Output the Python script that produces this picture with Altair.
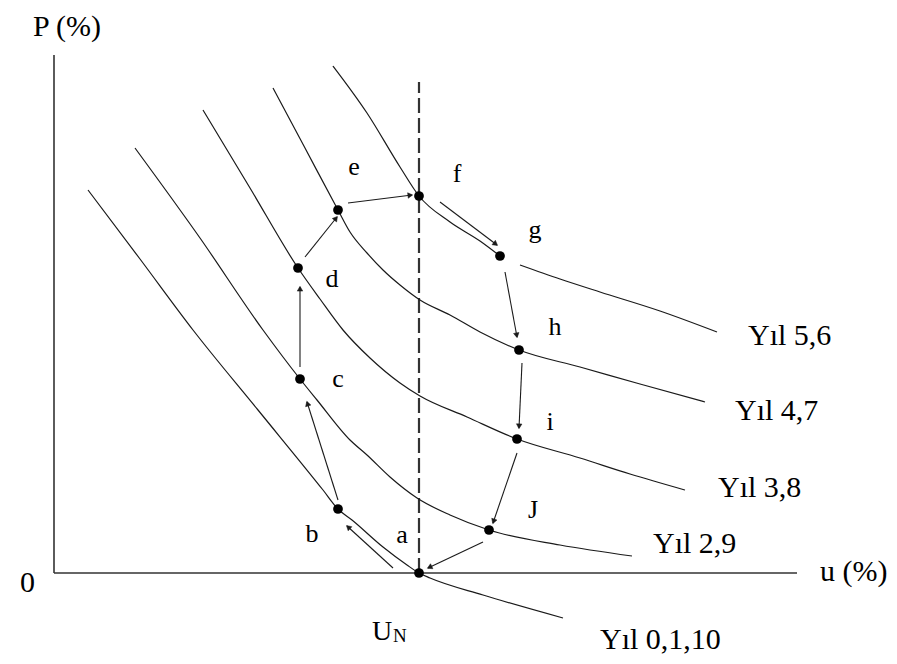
import math
import altair as alt
import pandas as pd

# ---- curves (u = unemployment, P = inflation), arbitrary units ----
C56A_U = [27.9, 31.3, 34.6, 36.5, 39.6, 42.6, 44.6]
C56A_P = [50.7, 46.0, 40.6, 37.7, 35.1, 33.2, 31.7]
C56B_U = [46.6, 50.6, 54.6, 60.6, 66.3]
C56B_P = [30.8, 29.4, 28.1, 26.2, 24.1]
C47_U = [21.9, 25.1, 28.4, 29.6, 31.3, 32.9, 34.6, 36.6, 39.6, 42.6, 46.5, 52.6, 58.6, 65.1]
C47_P = [48.5, 42.5, 36.3, 34.1, 32.0, 30.3, 28.8, 27.3, 25.8, 24.1, 22.3, 20.6, 18.9, 17.1]
C38_U = [14.9, 19.6, 24.4, 26.6, 28.9, 31.6, 34.6, 36.6, 41.3, 46.3, 52.6, 57.6, 63.1]
C38_P = [46.3, 38.5, 30.5, 27.4, 24.3, 21.5, 19.0, 17.7, 15.6, 13.4, 11.5, 9.9, 8.3]
C29_U = [8.1, 14.6, 20.9, 24.6, 26.3, 29.6, 31.3, 33.6, 36.3, 39.6, 43.5, 50.6, 57.8]
C29_P = [42.5, 33.5, 24.3, 19.4, 17.3, 13.3, 11.8, 9.6, 7.5, 5.8, 4.3, 2.8, 1.7]
C0_U = [3.4, 8.6, 13.9, 20.4, 26.9, 28.4, 29.8, 32.9, 35.3, 36.5, 37.6, 42.9, 50.9]
C0_P = [38.3, 31.4, 24.3, 16.3, 8.3, 6.4, 5.3, 2.6, 0.8, 0.0, -0.5, -2.2, -4.5]

# ---- points on the path ----
PT_NAME = ["a", "b", "c", "d", "e", "f", "g", "h", "i", "J"]
PT_U = [36.5, 28.4, 24.6, 24.4, 28.4, 36.5, 44.6, 46.5, 46.3, 43.5]
PT_P = [0.0, 6.4, 19.4, 30.5, 36.3, 37.7, 31.7, 22.3, 13.4, 4.3]

# ---- arrows between points ----
AR_U0 = [33.9, 28.4, 24.6, 25.1, 29.4, 38.6, 45.1, 46.8, 46.3, 42.9]
AR_P0 = [0.5, 7.3, 20.6, 31.6, 37.0, 37.1, 30.1, 21.0, 12.0, 3.1]
AR_U1 = [29.3, 25.3, 24.6, 28.3, 35.8, 44.3, 46.3, 46.5, 43.9, 37.4]
AR_P1 = [4.7, 17.1, 28.6, 35.6, 37.8, 32.8, 23.6, 14.5, 5.0, 0.5]

# ---- point letter labels ----
LB_TEXT = ["a", "b", "c", "d", "e", "f", "g", "h", "i", "J"]
LB_U = [34.8, 25.8, 28.4, 27.8, 30.0, 40.3, 48.1, 50.1, 49.6, 47.9]
LB_P = [3.0, 3.1, 18.6, 28.6, 39.8, 39.1, 33.5, 23.8, 14.3, 5.5]

# ---- curve labels ----
YL_TEXT = ["Y\u0131l 5,6", "Y\u0131l 4,7", "Y\u0131l 3,8", "Y\u0131l 2,9", "Y\u0131l 0,1,10"]
YL_U = [69.4, 68.1, 66.4, 59.9, 54.6]
YL_P = [22.8, 15.3, 7.6, 2.0, -7.6]

# ---- axis texts ----
AX_TEXT = ["P (%)", "u (%)", "0", "U", "N"]
AX_U = [-2.1, 76.6, -3.4, 31.8, 33.9]
AX_P = [53.7, -0.8, -1.9, -6.7, -6.9]
AX_SIZE = [30, 30, 30, 28, 19]

U_N = 36.5
DASH_TOP = 49.1
Y_AXIS_TOP = 51.8
X_AXIS_END = 74.3

W, H = 881, 648
XD = [-4.6, -4.6 + W / 10]
YD = [56.5 - H / 10, 56.5]

FONT = "Liberation Serif"

xs = alt.Scale(domain=XD, nice=False, zero=False)
ys = alt.Scale(domain=YD, nice=False, zero=False)

rows = []
for name, us, ps in [("56a", C56A_U, C56A_P), ("56b", C56B_U, C56B_P), ("47", C47_U, C47_P),
                     ("38", C38_U, C38_P), ("29", C29_U, C29_P), ("0", C0_U, C0_P)]:
    for u, p in zip(us, ps):
        rows.append({"curve": name, "u": u, "P": p})
curves_df = pd.DataFrame(rows)

pts_df = pd.DataFrame({"name": PT_NAME, "u": PT_U, "P": PT_P})

# arrowhead direction and a centre pulled back so that the tip sits on the arrow end
ang, hu, hp = [], [], []
for u0, p0, u1, p1 in zip(AR_U0, AR_P0, AR_U1, AR_P1):
    du, dp = u1 - u0, p1 - p0
    L = math.hypot(du, dp)
    ang.append(math.degrees(math.atan2(du, dp)) % 360)
    hu.append(u1 - du / L * 0.25)
    hp.append(p1 - dp / L * 0.25)
arr_df = pd.DataFrame({"u0": AR_U0, "P0": AR_P0, "u1": AR_U1, "P1": AR_P1,
                       "hu": hu, "hp": hp, "ang": ang})

lb_df = pd.DataFrame({"t": LB_TEXT, "u": LB_U, "P": LB_P})
yl_df = pd.DataFrame({"t": YL_TEXT, "u": YL_U, "P": YL_P})
ax_df = pd.DataFrame({"t": AX_TEXT, "u": AX_U, "P": AX_P, "fs": AX_SIZE})

axes_df = pd.DataFrame({"u0": [0.0, 0.0], "P0": [0.0, 0.0], "u1": [0.0, X_AXIS_END], "P1": [Y_AXIS_TOP, 0.0]})
dash_df = pd.DataFrame({"u0": [U_N], "P0": [0.0], "P1": [DASH_TOP]})

axes = alt.Chart(axes_df).mark_rule(color="#333333", strokeWidth=1.6).encode(
    x=alt.X("u0:Q", scale=xs, axis=None), y=alt.Y("P0:Q", scale=ys, axis=None),
    x2="u1:Q", y2="P1:Q")

dash = alt.Chart(dash_df).mark_rule(color="#333333", strokeWidth=2.2, strokeDash=[15, 5]).encode(
    x=alt.X("u0:Q", scale=xs, axis=None), y=alt.Y("P0:Q", scale=ys, axis=None), y2="P1:Q")

lines = alt.Chart(curves_df).mark_line(color="#1a1a1a", strokeWidth=1.2, interpolate="monotone").encode(
    x=alt.X("u:Q", scale=xs, axis=None), y=alt.Y("P:Q", scale=ys, axis=None),
    detail="curve:N", order="u:Q")

shafts = alt.Chart(arr_df).mark_rule(color="#1a1a1a", strokeWidth=1.1).encode(
    x=alt.X("u0:Q", scale=xs, axis=None), y=alt.Y("P0:Q", scale=ys, axis=None),
    x2="u1:Q", y2="P1:Q")

heads = alt.Chart(arr_df).mark_point(shape="triangle", filled=True, fill="#1a1a1a",
                                     stroke="#1a1a1a", strokeWidth=0.5, size=30, opacity=1).encode(
    x=alt.X("hu:Q", scale=xs, axis=None), y=alt.Y("hp:Q", scale=ys, axis=None),
    angle=alt.Angle("ang:Q", scale=None))

dots = alt.Chart(pts_df).mark_circle(color="black", size=95, opacity=1).encode(
    x=alt.X("u:Q", scale=xs, axis=None), y=alt.Y("P:Q", scale=ys, axis=None))

lbl = alt.Chart(lb_df).mark_text(font=FONT, fontSize=26, align="center", baseline="alphabetic", color="black").encode(
    x=alt.X("u:Q", scale=xs, axis=None), y=alt.Y("P:Q", scale=ys, axis=None), text="t:N")

yl = alt.Chart(yl_df).mark_text(font=FONT, fontSize=30, align="left", baseline="alphabetic", color="black").encode(
    x=alt.X("u:Q", scale=xs, axis=None), y=alt.Y("P:Q", scale=ys, axis=None), text="t:N")

axt = alt.Chart(ax_df).mark_text(font=FONT, align="left", baseline="alphabetic", color="black").encode(
    x=alt.X("u:Q", scale=xs, axis=None), y=alt.Y("P:Q", scale=ys, axis=None), text="t:N",
    size=alt.Size("fs:Q", scale=None))

chart = alt.layer(axes, dash, lines, shafts, heads, dots, lbl, yl, axt).properties(
    width=W, height=H, padding=0, autosize=alt.AutoSizeParams(type="none"), background="white"
).configure_view(stroke=None)

chart.save("out.html", embed_options={"renderer": "svg", "actions": False})
